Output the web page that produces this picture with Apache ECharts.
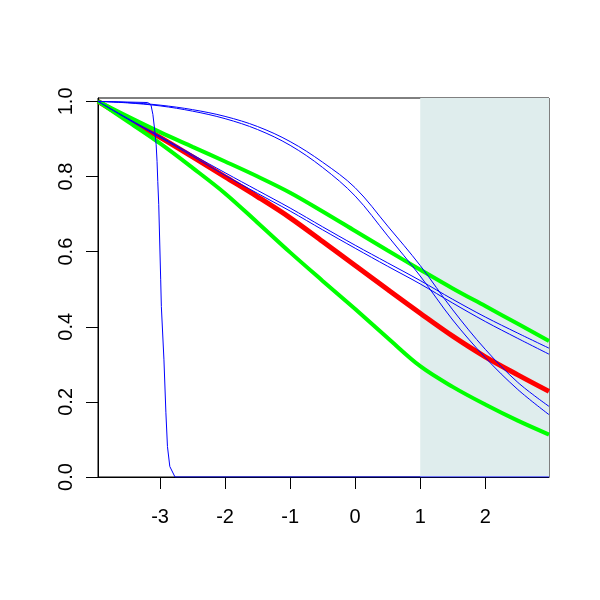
<!DOCTYPE html>
<html>
<head>
<meta charset="utf-8">
<script src="https://cdn.jsdelivr.net/npm/echarts@6/dist/echarts.min.js"></script>
<style>html,body{margin:0;padding:0;background:#fff}#c{width:600px;height:600px}</style>
</head>
<body>
<div id="c"></div>
<script>
// grid of x positions shared by the smooth curves
var xs = [-3.954, -3.5, -3, -2.5, -2, -1.5, -1, -0.5, 0, 0.5, 1, 1.5, 2, 2.5, 2.98];
var redEst = [1.0, 0.953, 0.904, 0.852, 0.799, 0.746, 0.69, 0.627, 0.563, 0.499, 0.436, 0.375, 0.32, 0.272, 0.228];
var greenUpper = [1.0, 0.96, 0.918, 0.879, 0.84, 0.80, 0.757, 0.707, 0.655, 0.603, 0.552, 0.502, 0.455, 0.408, 0.362];
var greenLower = [1.0, 0.947, 0.888, 0.823, 0.755, 0.677, 0.598, 0.522, 0.447, 0.37, 0.295, 0.24, 0.193, 0.15, 0.113];
var blueLinA = [1.0, 0.955, 0.907, 0.858, 0.81, 0.763, 0.716, 0.666, 0.617, 0.570, 0.523, 0.473, 0.426, 0.383, 0.343];
var blueLinB = [1.0, 0.953, 0.904, 0.854, 0.803, 0.755, 0.708, 0.658, 0.609, 0.561, 0.514, 0.463, 0.414, 0.369, 0.327];
var blueSigA = [1.0, 0.997, 0.99, 0.978, 0.96, 0.933, 0.893, 0.838, 0.77, 0.668, 0.563, 0.445, 0.34, 0.252, 0.188];
var blueSigB = [1.0, 0.996, 0.988, 0.974, 0.954, 0.925, 0.883, 0.824, 0.748, 0.642, 0.535, 0.418, 0.318, 0.233, 0.166];
// steep blue curve
var steepX = [-3.954, -3.19, -3.14, -3.11, -3.086, -3.06, -3.046, -3.035, -3.02, -2.99, -2.98, -2.94, -2.91, -2.886, -2.85, -2.77, 2.98];
var steepY = [1.0, 0.997, 0.991, 0.965, 0.929, 0.885, 0.84, 0.787, 0.725, 0.525, 0.454, 0.312, 0.171, 0.081, 0.028, 0.0, 0.0];
var xTicks = [-3, -2, -1, 0, 1, 2];
var yTicks = [0, 0.2, 0.4, 0.6, 0.8, 1.0];
var shadeFrom = 1;

function pairs(xa, ya) { return xa.map(function (x, i) { return [x, ya[i]]; }); }
function curve(vals, color, width) {
  return { type: 'line', data: pairs(xs, vals), showSymbol: false, smooth: 0.35,
    lineStyle: { color: color, width: width }, itemStyle: { color: color }, silent: true };
}
var xMin = -3.954, xMax = 2.98;
var chart = echarts.init(document.getElementById('c'), null, { renderer: 'canvas' });
chart.setOption({
  animation: false,
  backgroundColor: '#ffffff',
  grid: { left: 98, right: 51, top: 98, bottom: 123, show: true, borderColor: '#000', borderWidth: 1, backgroundColor: 'transparent' },
  xAxis: {
    type: 'value', min: xMin, max: xMax,
    axisLine: { show: true, onZero: false, lineStyle: { color: '#000', width: 1 } },
    axisTick: { show: true, length: 12, lineStyle: { color: '#000' }, customValues: xTicks },
    axisLabel: { customValues: xTicks, color: '#000', fontSize: 20, fontFamily: 'Liberation Sans, Arial', margin: 30 },
    splitLine: { show: false }
  },
  yAxis: {
    type: 'value', min: 0, max: 1.009,
    axisLine: { show: true, onZero: false, lineStyle: { color: '#000', width: 1 } },
    axisTick: { show: true, length: 12, lineStyle: { color: '#000' }, customValues: yTicks },
    axisLabel: { customValues: yTicks, rotate: 90, color: '#000', fontSize: 20, fontFamily: 'Liberation Sans, Arial', margin: 22,
      formatter: function (v) { return Number(v).toFixed(1); } },
    splitLine: { show: false }
  },
  series: [
    { type: 'line', data: [], silent: true,
      markArea: { silent: true, itemStyle: { color: '#DFEDED' }, data: [[{ xAxis: shadeFrom }, { xAxis: xMax }]] } },
    curve(redEst, '#FF0000', 5),
    curve(greenUpper, '#00FF00', 4),
    curve(greenLower, '#00FF00', 4),
    curve(blueLinA, '#0000FF', 1),
    curve(blueLinB, '#0000FF', 1),
    curve(blueSigA, '#0000FF', 1),
    curve(blueSigB, '#0000FF', 1),
    { type: 'line', data: pairs(steepX, steepY), showSymbol: false, smooth: false,
      lineStyle: { color: '#0000FF', width: 1 }, silent: true }
  ]
});
</script>
</body>
</html>
